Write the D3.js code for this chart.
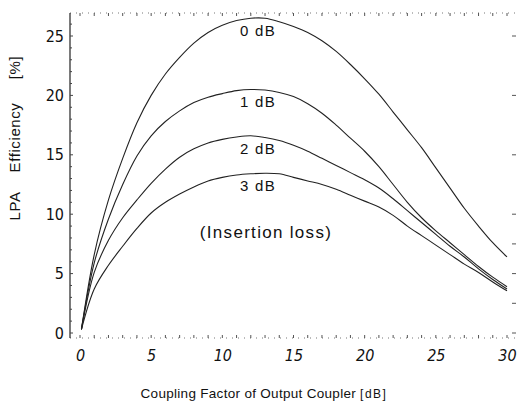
<!DOCTYPE html>
<html>
<head>
<meta charset="utf-8">
<script src="https://cdn.jsdelivr.net/npm/d3@7/dist/d3.min.js"></script>
<style>
  body { margin: 0; background: #fff; }
</style>
</head>
<body>
<div id="chart"></div>
<script>
// coupling factor of output coupler [dB]
const couplingDb = [0.1, 1, 2, 3, 4, 5, 6, 7, 8, 9, 10, 11, 12, 13, 14, 15,
  16, 17, 18, 19, 20, 21, 22, 23, 24, 25, 26, 27, 28, 29, 30];

// LPA efficiency [%] for each insertion loss
const eff0dB = [0.3, 6.6, 11.2, 14.7, 17.7, 20.0, 21.8, 23.2, 24.4, 25.3, 25.9, 26.3, 26.5, 26.5, 26.2, 25.8,
  25.3, 24.6, 23.7, 22.6, 21.4, 20.1, 18.6, 17.1, 15.6, 13.9, 12.2, 10.5, 9.0, 7.6, 6.4];
const eff1dB = [0.3, 5.9, 9.6, 12.5, 14.9, 16.6, 17.8, 18.7, 19.4, 19.85, 20.15, 20.4, 20.5, 20.45, 20.25, 19.9,
  19.3, 18.5, 17.5, 16.4, 15.3, 14.0, 12.5, 11.0, 9.7, 8.6, 7.6, 6.6, 5.6, 4.7, 3.9];
const eff2dB = [0.3, 5.1, 7.8, 9.7, 11.2, 12.6, 13.8, 14.8, 15.5, 16.0, 16.3, 16.5, 16.6, 16.45, 16.2, 15.8,
  15.3, 14.7, 14.1, 13.5, 12.9, 12.2, 11.3, 10.3, 9.3, 8.3, 7.3, 6.4, 5.4, 4.5, 3.7];
const eff3dB = [0.3, 3.7, 5.7, 7.3, 8.8, 10.1, 11.0, 11.7, 12.3, 12.8, 13.1, 13.3, 13.4, 13.45, 13.4, 13.1,
  12.8, 12.5, 12.1, 11.6, 11.1, 10.6, 9.9, 9.0, 8.2, 7.4, 6.6, 5.8, 5.1, 4.3, 3.55];

const lossLabels = ["0 dB", "1 dB", "2 dB", "3 dB"];
const xTicks = [0, 5, 10, 15, 20, 25, 30];
const yTicks = [0, 5, 10, 15, 20, 25];

const width = 517, height = 407;

const svg = d3.select("#chart")
  .append("svg")
    .attr("width", width)
    .attr("height", height)
    .style("background", "#fff");

const x = d3.scaleLinear().domain([0, 30]).range([80, 507]);
const y = d3.scaleLinear().domain([0, 25]).range([333, 36]);

const frame = { left: 70, right: 515, top: 13, bottom: 338 };
const tickFont = "'Liberation Sans Narrow', 'DejaVu Sans Condensed', sans-serif";
const textFont = "'Liberation Sans', Arial, sans-serif";

// top and bottom dotted borders with small ticks every 1 dB
const minorX = d3.range(0, 31);
[[frame.top, 3], [frame.bottom, -3]].forEach(([yy, len]) => {
  svg.append("line")
    .attr("x1", frame.left).attr("x2", frame.right)
    .attr("y1", yy).attr("y2", yy)
    .attr("stroke", "#777").attr("stroke-width", 1)
    .attr("stroke-dasharray", "1,5");
  svg.append("g")
    .selectAll("line")
    .data(minorX)
    .join("line")
      .attr("x1", d => x(d)).attr("x2", d => x(d))
      .attr("y1", yy).attr("y2", yy + len)
      .attr("stroke", "#555").attr("stroke-width", 1);
});

// left axis
const yAxis = g => g
  .attr("transform", `translate(${frame.left},0)`)
  .call(d3.axisLeft(y).tickValues(yTicks).tickSize(0).tickPadding(6))
  .call(g => g.select(".domain").remove())
  .call(g => g.selectAll(".tick text")
    .attr("font-family", tickFont)
    .attr("font-size", 16)
    .attr("fill", "#111"));

svg.append("g").call(yAxis);

svg.append("line")
  .attr("x1", frame.left).attr("x2", frame.left)
  .attr("y1", frame.top).attr("y2", frame.bottom)
  .attr("stroke", "#222").attr("stroke-width", 1.2);

svg.append("g")
  .selectAll("line")
  .data(d3.range(0, 27))
  .join("line")
    .attr("x1", frame.left).attr("x2", d => frame.left + (d % 5 === 0 ? 3 : 2))
    .attr("y1", d => y(d)).attr("y2", d => y(d))
    .attr("stroke", "#444").attr("stroke-width", 1);

// right side marks
svg.append("g")
  .selectAll("line")
  .data([0, 2.5, 5, 7.5, 10, 15, 20, 25])
  .join("line")
    .attr("x1", frame.right - 3).attr("x2", frame.right + 1)
    .attr("y1", d => y(d)).attr("y2", d => y(d))
    .attr("stroke", "#555").attr("stroke-width", 1);

// bottom tick labels
const xAxis = g => g
  .attr("transform", `translate(0,${frame.bottom})`)
  .call(d3.axisBottom(x).tickValues(xTicks).tickSize(0).tickPadding(12))
  .call(g => g.select(".domain").remove())
  .call(g => g.selectAll(".tick text")
    .attr("font-family", tickFont)
    .attr("font-style", "italic")
    .attr("font-size", 16)
    .attr("fill", "#111"));

svg.append("g").call(xAxis);

// curves
const series = [eff0dB, eff1dB, eff2dB, eff3dB];
const line = d3.line()
  .x((d, i) => x(couplingDb[i]))
  .y(d => y(d))
  .curve(d3.curveCatmullRom.alpha(0.5));

svg.append("g")
  .selectAll("path")
  .data(series)
  .join("path")
    .attr("fill", "none")
    .attr("stroke", "#222")
    .attr("stroke-width", 1.1)
    .attr("d", line);

// curve labels, placed below each peak
svg.append("g")
  .attr("font-family", textFont)
  .attr("font-size", 15)
  .attr("letter-spacing", 1.3)
  .attr("fill", "#111")
  .attr("text-anchor", "middle")
  .selectAll("text")
  .data(series)
  .join("text")
    .attr("x", x(12.5))
    .attr("y", d => y(d3.max(d)) + 18)
    .text((d, i) => lossLabels[i]);

svg.append("text")
  .attr("x", 266)
  .attr("y", 238)
  .attr("font-family", textFont)
  .attr("font-size", 17)
  .attr("letter-spacing", 1.3)
  .attr("text-anchor", "middle")
  .attr("fill", "#111")
  .text("(Insertion loss)");

// axis titles
const xTitle = svg.append("text")
  .attr("x", 264)
  .attr("y", 398)
  .attr("font-family", textFont)
  .attr("font-size", 13.5)
  .attr("letter-spacing", 0.3)
  .attr("text-anchor", "middle")
  .attr("fill", "#111");
xTitle.append("tspan").text("Coupling Factor of Output Coupler ");
xTitle.append("tspan").attr("font-size", 12).attr("letter-spacing", 1.5).text("[dB]");

const yTitle = [["LPA", 206], ["Efficiency", 137.5], ["[%]", 67.5]];
svg.append("g")
  .attr("font-family", textFont)
  .attr("font-size", 15)
  .attr("letter-spacing", 0.6)
  .attr("fill", "#111")
  .attr("text-anchor", "middle")
  .selectAll("text")
  .data(yTitle)
  .join("text")
    .attr("transform", d => `translate(20,${d[1]}) rotate(-90)`)
    .text(d => d[0]);
</script>
</body>
</html>
